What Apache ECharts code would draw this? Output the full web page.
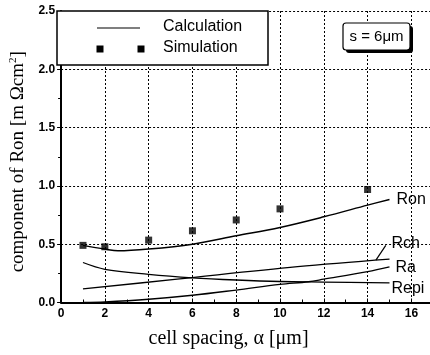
<!DOCTYPE html>
<html>
<head>
<meta charset="utf-8">
<script src="https://cdn.jsdelivr.net/npm/echarts@6/dist/echarts.min.js"></script>
<style>
html,body{margin:0;padding:0;background:#fff;}
#c{width:430px;height:355px;}
</style>
</head>
<body>
<div id="c"></div>
<script>
// Simulation points
var simX = [1, 2, 4, 6, 8, 10, 14];
var simY = [0.49, 0.478, 0.535, 0.615, 0.708, 0.803, 0.969];
// Calculation curves
var ronX = [1, 2, 2.6, 4, 6, 8, 10, 12, 14, 15];
var ronY = [0.49, 0.458, 0.443, 0.458, 0.50, 0.572, 0.644, 0.735, 0.835, 0.884];
var rchX = [1, 5.3, 10.8, 15];
var rchY = [0.116, 0.2, 0.307, 0.372];
var raX = [1, 2, 4, 6, 8, 10, 11.3, 12, 14, 15];
var raY = [0.0, 0.005, 0.028, 0.062, 0.107, 0.155, 0.178, 0.2, 0.265, 0.306];
var repiX = [1, 2, 4, 6, 8, 10, 12, 15];
var repiY = [0.343, 0.285, 0.242, 0.212, 0.193, 0.18, 0.175, 0.168];
// Rch label leader line
var leaderX = [14.38, 14.83];
var leaderY = [0.364, 0.49];
// axis ticks
var xTicks = [0, 2, 4, 6, 8, 10, 12, 14, 16];
var yTicks = [0.0, 0.5, 1.0, 1.5, 2.0, 2.5];

function zip(xs, ys){ return xs.map(function(x,i){ return [x, ys[i]]; }); }

var SANS = 'Liberation Sans, Arial, sans-serif';
var SERIF = 'Liberation Serif, Times New Roman, serif';

var chart = echarts.init(document.getElementById('c'), null, {renderer:'canvas'});

function curve(name, xs, ys, off, width){
  return {
    name: name, type: 'line', data: zip(xs, ys), smooth: 0.35,
    showSymbol: false, symbol: 'none',
    lineStyle: {color: '#000', width: width || 1.3},
    endLabel: {show: true, formatter: name, color: '#000', fontFamily: SANS, fontSize: 16, offset: off},
    z: 3
  };
}

var option = {
  animation: false,
  backgroundColor: '#fff',
  grid: {left: 57, right: 0, top: 11, bottom: 52.5, containLabel: false},
  xAxis: {
    type: 'value', min: 0, max: 16.85, interval: 2,
    name: 'cell spacing, \u03b1 [\u03bcm]', nameLocation: 'middle', nameGap: 26,
    nameTextStyle: {fontFamily: SERIF, fontSize: 20, color: '#000', padding: [0, 34, 0, 0]},
    axisLine: {show: true, lineStyle: {color: '#000', width: 2}},
    axisTick: {show: true, inside: true, length: 4, lineStyle: {color: '#000'}},
    minorTick: {show: true, splitNumber: 2, length: 3, lineStyle: {color: '#000'}},
    axisLabel: {
      color: '#000', fontFamily: SANS, fontSize: 12, fontWeight: 'bold', margin: 5,
      showMaxLabel: false,
      formatter: function(v){ return xTicks.indexOf(v) >= 0 ? String(v) : ''; }
    },
    splitLine: {show: true, lineStyle: {color: '#000', width: 1, type: [2, 2]}}
  },
  yAxis: {
    type: 'value', min: 0, max: 2.5, interval: 0.5,
    name: 'component of Ron [m \u03a9cm{sup|2}]', nameLocation: 'middle', nameGap: 30, nameRotate: 90,
    nameTextStyle: {fontFamily: SERIF, fontSize: 19, color: '#000', padding: [0, 10, 0, 0],
      rich: {sup: {fontFamily: SERIF, fontSize: 11, padding: [0, 0, 9, 0], color: '#000'}}},
    axisLine: {show: true, lineStyle: {color: '#000', width: 2}},
    axisTick: {show: true, inside: false, length: 4, lineStyle: {color: '#000'}},
    minorTick: {show: true, splitNumber: 2, length: 3, lineStyle: {color: '#000'}},
    axisLabel: {
      color: '#000', fontFamily: SANS, fontSize: 12, fontWeight: 'bold', margin: 6,
      formatter: function(v){
        for (var i = 0; i < yTicks.length; i++) if (Math.abs(yTicks[i]-v) < 1e-9) return yTicks[i].toFixed(1);
        return '';
      }
    },
    splitLine: {show: true, lineStyle: {color: '#000', width: 1, type: [2, 2]}}
  },
  series: [
    curve('Ron', ronX, ronY, [-1, 0], 1.5),
    curve('Rch', rchX, rchY, [-6, -16]),
    curve('Ra', raX, raY, [-2, 1]),
    curve('Repi', repiX, repiY, [-6, 6]),
    {
      name: 'leader', type: 'line', data: zip(leaderX, leaderY), showSymbol: false, symbol: 'none',
      lineStyle: {color: '#000', width: 1.2}, z: 3
    },
    {
      name: 'Simulation', type: 'scatter', data: zip(simX, simY), symbol: 'rect', symbolSize: 7,
      itemStyle: {color: '#000'}, z: 4
    }
  ],
  graphic: [
    // legend box
    {type: 'rect', shape: {x: 57, y: 11, width: 211, height: 54}, style: {fill: '#fff', stroke: '#000', lineWidth: 1.5}, z: 100},
    {type: 'line', shape: {x1: 97, y1: 28, x2: 140, y2: 28}, style: {stroke: '#000', lineWidth: 1.2}, z: 101},
    {type: 'rect', shape: {x: 96.5, y: 45.5, width: 7, height: 7}, style: {fill: '#000'}, z: 101},
    {type: 'rect', shape: {x: 137.5, y: 45.5, width: 7, height: 7}, style: {fill: '#000'}, z: 101},
    {type: 'text', left: 163, top: 19, style: {text: 'Calculation', fill: '#000', font: '16px ' + SANS}, z: 101},
    {type: 'text', left: 163, top: 40, style: {text: 'Simulation', fill: '#000', font: '16px ' + SANS}, z: 101},
    // s = 6um box with shadow
    {type: 'rect', shape: {x: 346, y: 26, width: 67, height: 27, r: 3}, style: {fill: '#000'}, z: 100},
    {type: 'rect', shape: {x: 343, y: 23, width: 67, height: 27, r: 3}, style: {fill: '#fff', stroke: '#000', lineWidth: 1.2}, z: 101},
    {type: 'text', x: 376.5, y: 36.5, style: {text: 's = 6\u03bcm', fill: '#000', font: '15px ' + SANS, textAlign: 'center', textVerticalAlign: 'middle'}, z: 102}
  ]
};
chart.setOption(option);
</script>
</body>
</html>
